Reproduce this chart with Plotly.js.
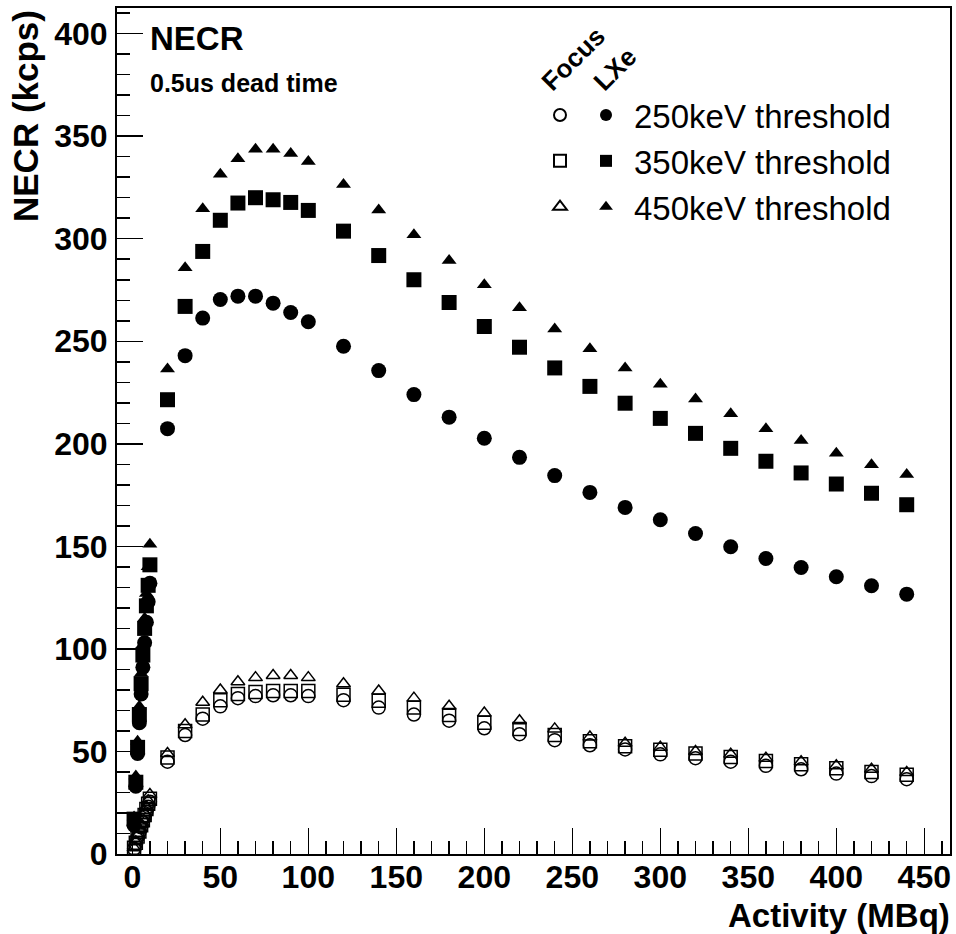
<!DOCTYPE html>
<html>
<head>
<meta charset="utf-8">
<script src="https://cdn.plot.ly/plotly-3.0.1.min.js"></script>
<style>
  html, body { margin: 0; padding: 0; background: #fff; }
  #chart { width: 956px; height: 934px; }
</style>
</head>
<body>
<div id="chart"></div>
<script>
// Activity (MBq)
const activity = [1,2,3,4,5,6,7,8,9,10,20,30,40,50,60,70,80,90,100,120,140,160,180,200,220,240,260,280,300,320,340,360,380,400,420,440];

// LXe NECR (kcps)
const lxe250 = [14,33,49,64,78,91,103,113,123,132,207.4,243,261.3,270.4,272,272,268.6,264,259.5,247.6,235.7,224,213,202.7,193.4,184.5,176.3,169,163,156.3,149.8,144.1,139.7,135.2,130.8,126.7];
const lxe350 = [17,35,52,68,83,97,110,121,131,141,221.5,267,293.8,309,317.4,320,319,317.7,313.8,303.7,291.8,280,268.9,257.2,247.1,237,228,219.8,212.4,205.1,197.8,191.5,185.8,180.4,175.9,170.3];
const lxe450 = [18,38,55,72,88,102,115,127,140,151,236.5,285.8,314.6,331.4,339,343.6,343.6,341.6,337.7,326.5,314,302,289.4,277.5,266.3,256,246.3,237,229,221.9,214.6,207.3,201.6,195.4,189.8,185];

// Focus NECR (kcps)
const focus250 = [2.5,5,8,10.5,13,15.5,18,20.5,23,25.5,45,58,66,72,76,77,77.4,77.4,77,75,71.4,68,65,61.3,58.4,55.5,53,51,48.6,46.7,45,43,41.3,39.2,38,36.5];
const focus350 = [3,5.5,8.5,11,14,16.5,19,22,24.5,27,47,60,68,75,78,79,79.5,79.5,79.5,77.6,74.7,71.4,67.8,64,61,58,55,52.5,50.8,49,47.3,45.4,43.8,41.8,40,38.6];
const focus450 = [3,6,9,12,14.5,17,20,23,26,29,49,63,74,80,84,86,87,87,86,83,79.5,76,72,68.7,65,61,57,54,52,50,48.6,46.7,45,43,41.3,39.7];

const seriesNames = ["250keV threshold", "350keV threshold", "450keV threshold"];
const xTicks = [0,50,100,150,200,250,300,350,400,450];
const yTicks = [0,50,100,150,200,250,300,350,400];

const L = 117, R = 6, T = 8, B = 80, W = 956, H = 934;
const PW = W - L - R, PH = H - T - B;
const px = p => (p - L) / PW;
const py = p => (H - B - p) / PH;

const FONT = "Liberation Sans, Arial, Helvetica, sans-serif";

function focusTrace(y, sym, size, i) {
  return {
    x: activity, y: y, type: 'scatter', mode: 'markers',
    name: ' ', legend: 'legend2', legendgroup: 'f' + i,
    marker: { symbol: sym, size: size, color: '#000', line: { color: '#000', width: 1.5 } }
  };
}
function lxeTrace(y, sym, size, i) {
  return {
    x: activity, y: y, type: 'scatter', mode: 'markers',
    name: seriesNames[i], legend: 'legend', legendgroup: 'l' + i,
    marker: { symbol: sym, size: size, color: '#000', line: { width: 0 } }
  };
}

const data = [
  focusTrace(focus250, 'circle-open', 13, 0),
  focusTrace(focus350, 'square-open', 13, 1),
  focusTrace(focus450, 'triangle-up-open', 12, 2),
  lxeTrace(lxe250, 'circle', 15, 0),
  lxeTrace(lxe350, 'square', 15, 1),
  lxeTrace(lxe450, 'triangle-up', 13, 2)
];

const axisCommon = {
  showgrid: false, zeroline: false, showline: true, linecolor: '#000', linewidth: 2,
  mirror: true, ticks: 'inside', ticklen: 26, tickwidth: 1.5, tickcolor: '#000',
  tickfont: { family: FONT, size: 32, color: '#000', weight: 'bold' }
};

const legendCommon = {
  xanchor: 'left', y: py(87), yanchor: 'top',
  bgcolor: 'rgba(0,0,0,0)', borderwidth: 0, tracegroupgap: 0,
  font: { family: FONT, size: 33, color: '#000' }, itemsizing: 'constant', itemwidth: 46
};

const layout = {
  width: W, height: H,
  margin: { l: L, r: R, t: T, b: B, pad: 0 },
  paper_bgcolor: '#fff', plot_bgcolor: '#fff',
  showlegend: true,
  xaxis: Object.assign({}, axisCommon, {
    range: [-8.7, 464.6], tickmode: 'array', tickvals: xTicks, ticktext: xTicks.map(String),
    ticklabelstandoff: -6,
    minor: { dtick: 10, tick0: 0, ticks: 'inside', ticklen: 13, tickwidth: 1.5, tickcolor: '#000' }
  }),
  yaxis: Object.assign({}, axisCommon, {
    range: [0, 412.5], tickmode: 'array', tickvals: yTicks, ticktext: yTicks.map(String),
    ticklabelstandoff: 1,
    minor: { dtick: 10, tick0: 0, ticks: 'inside', ticklen: 13, tickwidth: 1.5, tickcolor: '#000' }
  }),
  legend: Object.assign({}, legendCommon, { x: px(578) }),
  legend2: Object.assign({}, legendCommon, { x: px(532) }),
  annotations: [
    { text: 'NECR', xref: 'paper', yref: 'paper', x: px(148), y: py(38), xanchor: 'left', yanchor: 'middle',
      showarrow: false, font: { family: FONT, size: 33, color: '#000', weight: 'bold' } },
    { text: '0.5us dead time', xref: 'paper', yref: 'paper', x: px(148), y: py(83), xanchor: 'left', yanchor: 'middle',
      showarrow: false, font: { family: FONT, size: 25, color: '#000', weight: 'bold' } },
    { text: 'Focus', xref: 'paper', yref: 'paper', x: px(573), y: py(59), xanchor: 'center', yanchor: 'middle',
      textangle: -45, showarrow: false, font: { family: FONT, size: 26, color: '#000', weight: 'bold' } },
    { text: 'LXe', xref: 'paper', yref: 'paper', x: px(615), y: py(69), xanchor: 'center', yanchor: 'middle',
      textangle: -45, showarrow: false, font: { family: FONT, size: 26, color: '#000', weight: 'bold' } },
    { text: 'NECR (kcps)', xref: 'paper', yref: 'paper', x: px(26), y: py(116), xanchor: 'center', yanchor: 'middle',
      textangle: -90, showarrow: false, font: { family: FONT, size: 35, color: '#000', weight: 'bold' } },
    { text: 'Activity (MBq)', xref: 'paper', yref: 'paper', x: px(952), y: py(915), xanchor: 'right', yanchor: 'middle',
      showarrow: false, font: { family: FONT, size: 33, color: '#000', weight: 'bold' } }
  ]
};

Plotly.newPlot('chart', data, layout, { staticPlot: true, displayModeBar: false });
</script>
</body>
</html>
